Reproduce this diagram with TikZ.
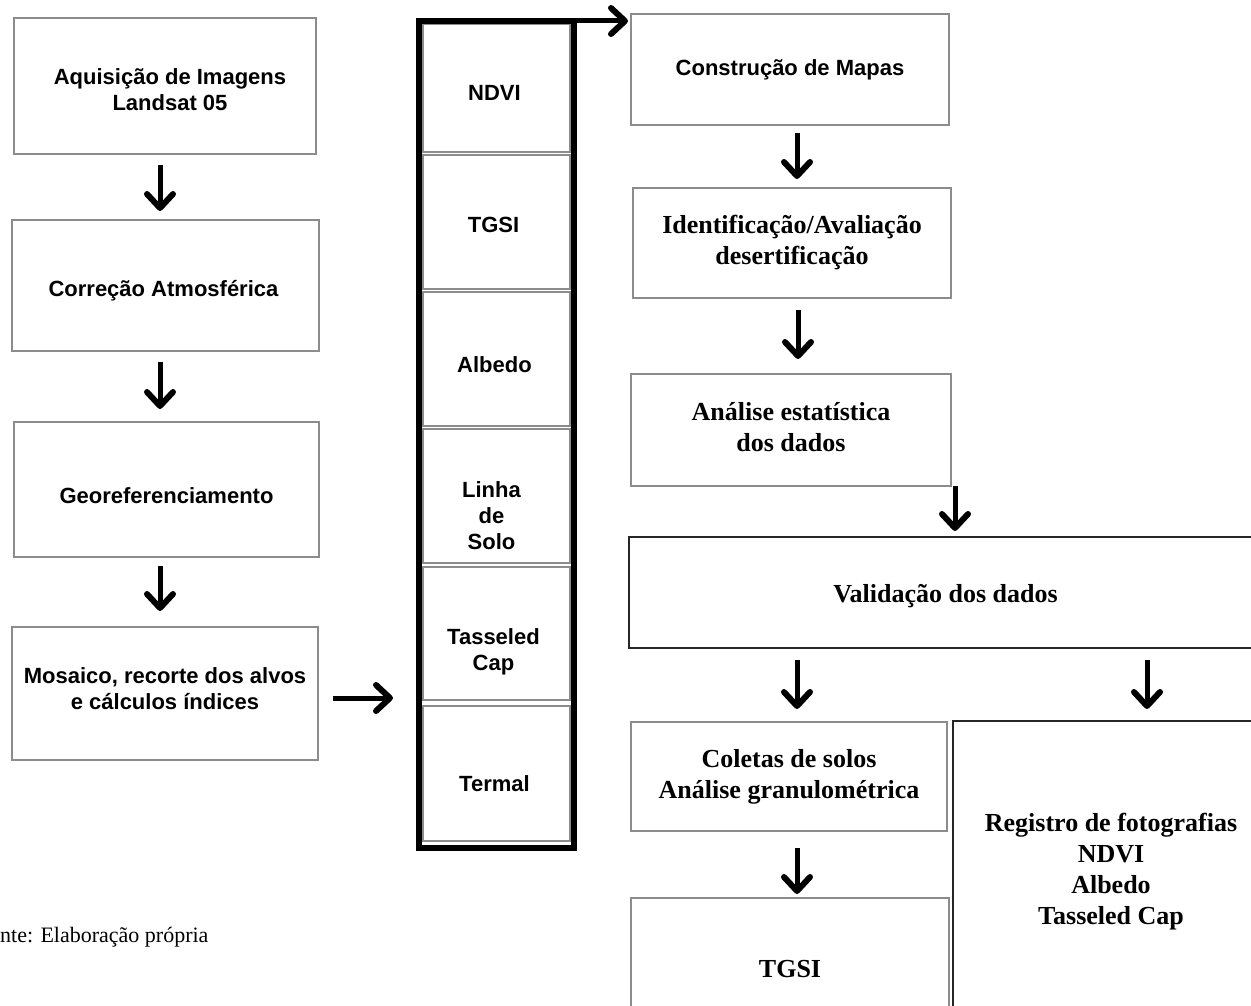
\documentclass[tikz,border=0pt]{standalone}
\usepackage{fontspec}
\setmainfont{Liberation Serif}
\setsansfont{Liberation Sans}
\usetikzlibrary{calc}
\definecolor{boxgray}{RGB}{140,140,140}
\newcommand\myDown[2]{\draw[shaft] (#1) -- (#2); \draw[head] ($(#2)+(-13,-14)$) -- (#2) -- ($(#2)+(13,-14)$);}
\newcommand\myRight[2]{\draw[shaft] (#1) -- (#2); \draw[head] ($(#2)+(-14,-13)$) -- (#2) -- ($(#2)+(-14,13)$);}
\begin{document}
\begin{tikzpicture}[x=1pt,y=-1pt,
  sfont/.style={font=\sffamily\bfseries\fontsize{22}{26}\selectfont},
  rfont/.style={font=\rmfamily\bfseries\fontsize{26}{31}\selectfont},
  sbox/.style={draw=boxgray,line width=1.5pt,rectangle,inner sep=0pt,outer sep=0pt},
  kbox/.style={sbox,draw=black!85},
  stext/.style={sfont,align=center,inner sep=0pt},
  rtext/.style={rfont,align=center,inner sep=0pt},
  cell/.style={draw=boxgray,line width=1.5pt,rectangle,inner sep=0pt,outer sep=0pt,minimum width=147pt},
  frame/.style={draw=black,line width=6pt,rectangle,inner sep=0pt,outer sep=0pt},
  shaft/.style={line width=5pt},
  head/.style={line width=6pt,line cap=round,line join=round}
]
\useasboundingbox (0,0) rectangle (1251,1006);
% left column
\node[sbox,minimum width=302pt,minimum height=136pt] (aq) at (165,86) {};
\node[sbox,minimum width=307pt,minimum height=131pt] (co) at (165.5,285.5) {};
\node[sbox,minimum width=305pt,minimum height=135pt] (ge) at (166.5,489.5) {};
\node[sbox,minimum width=306pt,minimum height=133pt] (mo) at (165,693.5) {};
\node[stext] (aqt) at ([xshift=5pt,yshift=-4pt]aq.center) {Aquisição de Imagens\\Landsat 05};
\node[stext] (cot) at ([xshift=-2pt,yshift=-5pt]co.center) {Correção Atmosférica};
\node[stext] (get) at ([xshift=0pt,yshift=-6pt]ge.center) {Georeferenciamento};
\node[stext] (mot) at ([xshift=0pt,yshift=5pt]mo.center) {Mosaico, recorte dos alvos\\e cálculos índices};
% middle column
\node[cell,minimum height=128pt] (c1) at (496.5,88) {};
\node[cell,minimum height=134pt] (c2) at (496.5,222) {};
\node[cell,minimum height=134pt] (c3) at (496.5,359) {};
\node[cell,minimum height=134pt] (c4) at (496.5,496) {};
\node[cell,minimum height=133pt] (c5) at (496.5,633.5) {};
\node[cell,minimum height=135pt] (c6) at (496.5,773.5) {};
\node[stext] (t1) at ([xshift=-2pt,yshift=-5pt]c1.center) {NDVI};
\node[stext] (t2) at ([xshift=-3pt,yshift=-3pt]c2.center) {TGSI};
\node[stext] (t3) at ([xshift=-2pt,yshift=-6pt]c3.center) {Albedo};
\node[stext] (t4) at ([xshift=-5pt,yshift=-20pt]c4.center) {Linha\\de\\Solo};
\node[stext] (t5) at ([xshift=-3pt,yshift=-18pt]c5.center) {Tasseled\\Cap};
\node[stext] (t6) at ([xshift=-2pt,yshift=-10pt]c6.center) {Termal};
\node[frame,minimum width=155pt,minimum height=827pt] (fr) at (496.5,434.5) {};
% right column
\node[sbox,minimum width=318pt,minimum height=111pt] (cm) at (790,69.5) {};
\node[sbox,minimum width=318pt,minimum height=110pt] (id) at (792,243) {};
\node[sbox,minimum width=320pt,minimum height=112pt] (an) at (791,430) {};
\node[kbox,minimum width=633pt,minimum height=111pt] (va) at (945.5,592.5) {};
\node[sbox,minimum width=316pt,minimum height=109pt] (cs) at (789,776.5) {};
\node[sbox,minimum width=318pt,minimum height=142pt] (tg) at (790,969) {};
\node[kbox,minimum width=316pt,minimum height=295pt] (rf) at (1111,868.5) {};
\node[stext] (cmt) at ([yshift=0pt]cm.center) {Construção de Mapas};
\node[rtext] (idt) at ([yshift=0pt]id.center) {Identificação/Avaliação\\desertificação};
\node[rtext] (ant) at ([yshift=3pt]an.center) {Análise estatística\\dos dados};
\node[rtext] (vat) at ([yshift=-4pt]va.center) {Validação dos dados};
\node[rtext] (cst) at ([yshift=0pt]cs.center) {Coletas de solos\\Análise granulométrica};
\node[rtext] (tgt) at ([yshift=0pt]tg.center) {TGSI};
\node[rtext] (rft) at ([yshift=-3pt]rf.center) {Registro de fotografias\\NDVI\\Albedo\\Tasseled Cap};
% footer
\node[anchor=base west,inner sep=0pt,font=\rmfamily\fontsize{22}{26}\selectfont] (src) at (0,942) {nte: Elaboração própria};
% arrow end points
\coordinate (s1) at ($(aq.south)+(-5,11)$);   \coordinate (e1) at ($(co.north)+(-5.5,-12)$);
\coordinate (s2) at ($(co.south)+(-5.5,11)$); \coordinate (e2) at ($(ge.north)+(-6.5,-16)$);
\coordinate (s3) at ($(ge.south)+(-6.5,9)$);  \coordinate (e3) at ($(mo.north)+(-5,-19)$);
\coordinate (s4) at ($(mo.east)+(15,4.5)$);   \coordinate (e4) at ($(fr.west |- mo.east)+(-29,4.5)$);
\coordinate (s5) at (fr.north east);          \coordinate (e5) at ($(cm.west |- fr.north east)+(-6,0)$);
\coordinate (s6) at ($(cm.south)+(7,8)$);     \coordinate (e6) at ($(id.north)+(5,-12)$);
\coordinate (s7) at ($(id.south)+(6,12)$);    \coordinate (e7) at ($(an.north)+(7,-18)$);
\coordinate (s8) at ($(an.south east)+(4,0)$); \coordinate (e8) at ($(an.south east |- va.north)+(4,-9)$);
\coordinate (s9) at ($(va.south -| cs.north)+(8,12)$); \coordinate (e9) at ($(cs.north)+(8,-16)$);
\coordinate (s10) at ($(va.south -| rf.north)+(36,12)$); \coordinate (e10) at ($(rf.north)+(36,-15)$);
\coordinate (s11) at ($(cs.south)+(8,17)$);   \coordinate (e11) at ($(tg.north)+(7,-7)$);
% arrows
\myDown{s1}{e1}
\myDown{s2}{e2}
\myDown{s3}{e3}
\myRight{s4}{e4}
\myRight{s5}{e5}
\myDown{s6}{e6}
\myDown{s7}{e7}
\myDown{s8}{e8}
\myDown{s9}{e9}
\myDown{s10}{e10}
\myDown{s11}{e11}
\end{tikzpicture}
\end{document}
